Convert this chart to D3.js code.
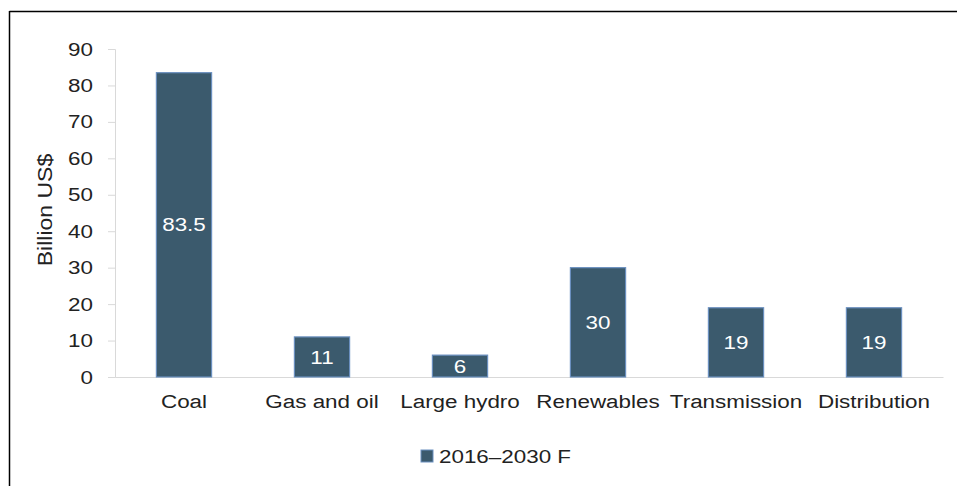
<!DOCTYPE html>
<html>
<head>
<meta charset="utf-8">
<script src="https://cdn.jsdelivr.net/npm/d3@7"></script>
<style>
  body { margin: 0; background: #fff; }
  text { font-family: "Liberation Sans", Arial, sans-serif; }
  /* the reference glyphs are a little wider than Arial, stretch them */
  .sx { transform-box: fill-box; transform-origin: center; transform: scaleX(1.18); }
  .sx-end { transform-box: fill-box; transform-origin: right center; transform: scaleX(1.18); }
  .sx-start { transform-box: fill-box; transform-origin: left center; transform: scaleX(1.18); }
</style>
</head>
<body>
<script>
var categories = ["Coal", "Gas and oil", "Large hydro", "Renewables", "Transmission", "Distribution"];
var values = [83.5, 11, 6, 30, 19, 19];
var valueLabels = ["83.5", "11", "6", "30", "19", "19"];
var yTicks = [0, 10, 20, 30, 40, 50, 60, 70, 80, 90];
var seriesName = "2016\u20132030 F";

var W = 957, H = 486;
var margin = {left: 115, right: 14, top: 49, bottom: 109};
var width = W - margin.left - margin.right;
var height = H - margin.top - margin.bottom;

var svg = d3.select("body").append("svg")
    .attr("width", W)
    .attr("height", H);

// frame (top and left edges only visible)
svg.append("line").attr("x1", 9.5).attr("x2", W).attr("y1", 11.5).attr("y2", 11.5)
   .attr("stroke", "#000").attr("stroke-width", 1.5);
svg.append("line").attr("x1", 9.5).attr("x2", 9.5).attr("y1", 11).attr("y2", H)
   .attr("stroke", "#000").attr("stroke-width", 1.5);

var g = svg.append("g")
    .attr("transform", "translate(" + margin.left + "," + margin.top + ")");

var x = d3.scaleBand()
    .domain(categories)
    .range([0, width])
    .paddingInner(0.6)
    .paddingOuter(0.3);

var y = d3.scaleLinear()
    .domain([0, 90])
    .range([height, 0]);

var yAxis = d3.axisLeft(y).tickValues(yTicks).tickSize(7).tickPadding(15);
var yg = g.append("g").attr("class", "y axis").call(yAxis);
yg.select(".domain").attr("stroke", "#d9d9d9");
yg.selectAll(".tick line").attr("stroke", "#d9d9d9");
yg.selectAll(".tick text").attr("font-size", 19).attr("fill", "#222").attr("class", "sx-end");

var xAxis = d3.axisBottom(x).tickSize(0).tickPadding(18);
var xg = g.append("g").attr("class", "x axis")
    .attr("transform", "translate(0," + height + ")")
    .call(xAxis);
xg.select(".domain").attr("stroke", "#d9d9d9");
xg.selectAll(".tick text").attr("font-size", 19).attr("fill", "#222").attr("class", "sx");

g.append("g")
    .attr("transform", "translate(-63," + (height / 2 - 3) + ") rotate(-90)")
  .append("text")
    .attr("class", "sx")
    .attr("text-anchor", "middle")
    .attr("font-size", 19.5)
    .attr("fill", "#222")
    .text("Billion US$");

g.selectAll("rect.bar")
    .data(values).enter()
    .append("rect")
    .attr("class", "bar")
    .attr("x", (d, i) => x(categories[i]))
    .attr("y", d => y(d))
    .attr("width", x.bandwidth())
    .attr("height", d => height - y(d))
    .attr("fill", "#3b5a6d")
    .attr("stroke", "#6a8fbf")
    .attr("stroke-width", 1.2);

g.selectAll("text.val")
    .data(values).enter()
    .append("text")
    .attr("class", "val sx")
    .attr("x", (d, i) => x(categories[i]) + x.bandwidth() / 2)
    .attr("y", d => (y(d) + height) / 2)
    .attr("dy", "0.35em")
    .attr("text-anchor", "middle")
    .attr("font-size", 19)
    .attr("fill", "#fff")
    .text((d, i) => valueLabels[i]);

// legend
var legend = svg.append("g").attr("transform", "translate(421,450)");
legend.append("rect")
    .attr("width", 12).attr("height", 12)
    .attr("fill", "#3b5a6d").attr("stroke", "#6a8fbf");
legend.append("text")
    .attr("class", "sx-start")
    .attr("x", 18).attr("y", 6).attr("dy", "0.35em")
    .attr("font-size", 19).attr("fill", "#222")
    .text(seriesName);
</script>
</body>
</html>
